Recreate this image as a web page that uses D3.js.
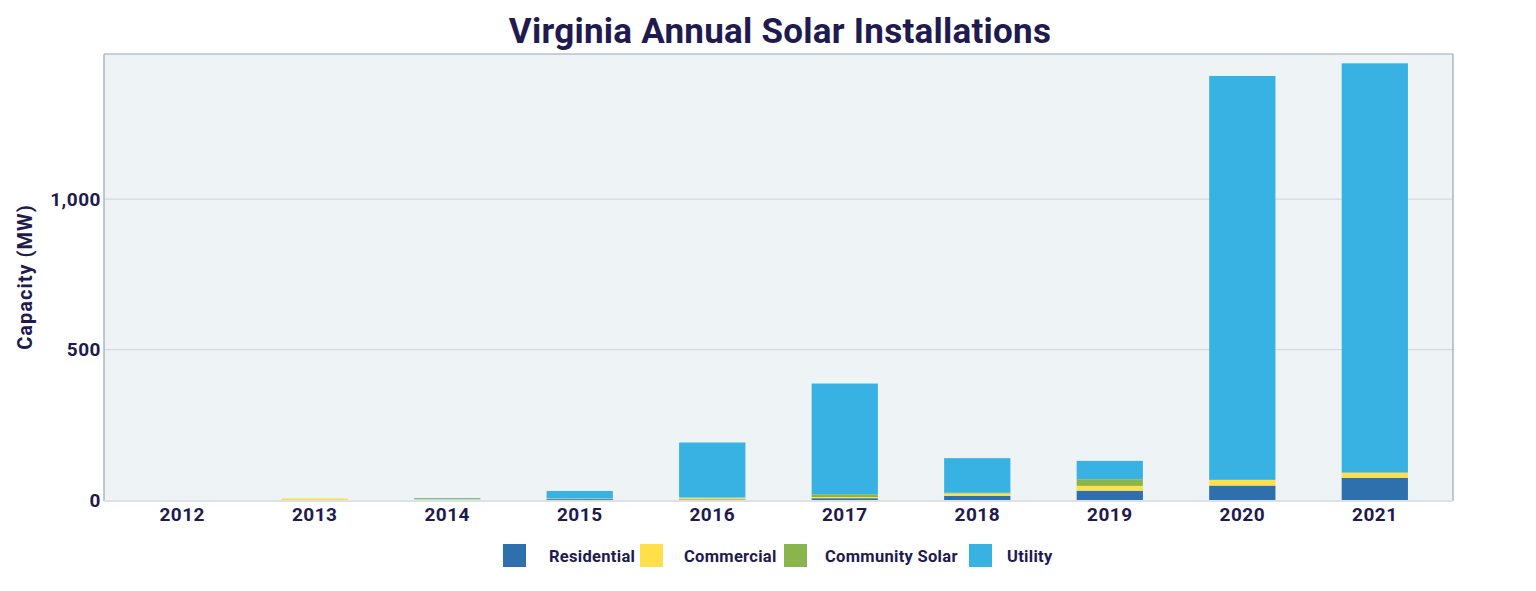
<!DOCTYPE html>
<html>
<head>
<meta charset="utf-8">
<script src="https://cdn.jsdelivr.net/npm/d3@7"></script>
<style>
  body { margin: 0; background: #fff; }
  svg { display: block; font-family: Roboto, "Noto Sans", sans-serif; }
</style>
</head>
<body>
<svg id="chart" width="1536" height="591"></svg>
<script>
const years = ["2012","2013","2014","2015","2016","2017","2018","2019","2020","2021"];
const residential = [0, 0, 0, 3, 2, 6, 14, 31, 48, 74];
const commercial = [0, 5, 3, 2, 6, 4, 8, 16, 19, 17];
const communitySolar = [0, 0, 0, 0, 0, 9, 2, 22, 0, 0];
const utility = [0, 0, 3, 25, 183, 368, 115, 61, 1342, 1360];
const seriesNames = ["Residential", "Commercial", "Community Solar", "Utility"];
const seriesColors = ["#2e6fad", "#fde04a", "#8ab54d", "#38b2e3"];
const yTicks = [0, 500, 1000];

const svg = d3.select("#chart");
const m = { left: 104, right: 1453, top: 54, bottom: 501 };
const textColor = "#211a4f";

const table = years.map((y, i) => ({
  year: y,
  "Residential": residential[i],
  "Commercial": commercial[i],
  "Community Solar": communitySolar[i],
  "Utility": utility[i]
}));

const x = d3.scaleBand().domain(years).range([m.left, m.right]).paddingInner(0.5).paddingOuter(0.34);
const y = d3.scaleLinear().domain([0, 1482]).range([m.bottom - 1, m.top]);
const color = d3.scaleOrdinal().domain(seriesNames).range(seriesColors);

// plot background
svg.append("rect").attr("x", m.left).attr("y", m.top)
  .attr("width", m.right - m.left).attr("height", m.bottom - m.top)
  .attr("fill", "#eef3f6");

// gridlines
svg.append("g").selectAll("line").data(yTicks.filter(d => d > 0)).join("line")
  .attr("x1", m.left).attr("x2", m.right)
  .attr("y1", d => y(d)).attr("y2", d => y(d))
  .attr("stroke", "#d3dae2").attr("stroke-width", 1.2);

// bars
const stacked = d3.stack().keys(seriesNames)(table);
svg.append("g").selectAll("g").data(stacked).join("g")
  .attr("fill", d => color(d.key))
  .selectAll("rect").data(d => d).join("rect")
  .attr("x", d => x(d.data.year))
  .attr("width", x.bandwidth())
  .attr("y", d => y(d[1]))
  .attr("height", d => Math.max(0, y(d[0]) - y(d[1])));

// plot border
const border = "#9aa5b5";
svg.append("line").attr("x1", m.left).attr("x2", m.right).attr("y1", m.top).attr("y2", m.top)
  .attr("stroke", border).attr("stroke-width", 1.2);
svg.append("line").attr("x1", m.left).attr("x2", m.left).attr("y1", m.top).attr("y2", m.bottom)
  .attr("stroke", border).attr("stroke-width", 1.2);
svg.append("line").attr("x1", m.right).attr("x2", m.right).attr("y1", m.top).attr("y2", m.bottom)
  .attr("stroke", border).attr("stroke-width", 1.2);
svg.append("line").attr("x1", m.left).attr("x2", m.right).attr("y1", m.bottom).attr("y2", m.bottom)
  .attr("stroke", "#dde1e6").attr("stroke-width", 2);

// y axis
const yAxis = d3.axisLeft(y).tickValues(yTicks).tickSize(0).tickPadding(3).tickFormat(d3.format(","));
const gy = svg.append("g").attr("transform", `translate(${m.left},0)`).call(yAxis);
gy.select(".domain").remove();
gy.selectAll("text").attr("fill", textColor).attr("font-size", 19).attr("font-weight", 700)
  .attr("letter-spacing", 0.5).attr("font-family", "Roboto, sans-serif");

// x axis
const xAxis = d3.axisBottom(x).tickSize(0).tickPadding(8);
const gx = svg.append("g").attr("transform", `translate(0,${m.bottom - 1})`).call(xAxis);
gx.select(".domain").remove();
gx.selectAll("text").attr("fill", textColor).attr("font-size", 19).attr("font-weight", 700)
  .attr("letter-spacing", 0.5).attr("font-family", "Roboto, sans-serif");

// y label
svg.append("text").attr("transform", "translate(32,277) rotate(-90)")
  .attr("text-anchor", "middle").attr("fill", textColor)
  .attr("font-size", 20).attr("font-weight", 700).attr("letter-spacing", 1)
  .text("Capacity (MW)");

// title
svg.append("text").attr("x", 780).attr("y", 43).attr("text-anchor", "middle")
  .attr("fill", textColor).attr("font-size", 35).attr("font-weight", 700).attr("letter-spacing", 0.25)
  .text("Virginia Annual Solar Installations");

// legend
const legendX = [503, 640, 784, 969];
const legendTextX = [549, 684, 825, 1007];
const lg = svg.append("g");
seriesNames.forEach((s, i) => {
  lg.append("rect").attr("x", legendX[i]).attr("y", 544).attr("width", 23).attr("height", 23)
    .attr("fill", color(s));
  lg.append("text").attr("x", legendTextX[i]).attr("y", 562).attr("fill", textColor)
    .attr("font-size", 16.5).attr("font-weight", 700).attr("letter-spacing", 0.3).text(s);
});
</script>
</body>
</html>
